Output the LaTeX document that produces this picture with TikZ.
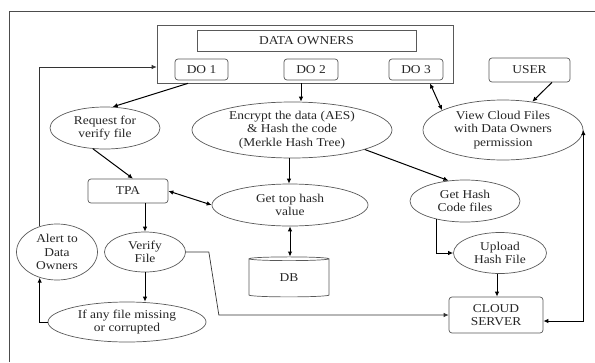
\documentclass[tikz,border=0pt]{standalone}
\usepackage{fontspec}
\setmainfont{Liberation Serif}[FakeStretch=1.12]
\usetikzlibrary{shapes.geometric,arrows.meta,calc}

\begin{document}
\begin{tikzpicture}[x=1pt,y=-1pt,
  font=\fontsize{12}{13.5}\selectfont,
  shapeline/.style={draw=black!65, line width=0.7pt, text=black!85},
  plainbox/.style={shapeline, rectangle, inner sep=0pt, align=center},
  box/.style={plainbox, rounded corners=3pt},
  oval/.style={shapeline, ellipse, inner sep=0pt, align=center},
  tip/.tip={Latex[length=5pt,width=4.5pt]},
  link/.style={draw=black, line width=1pt, -tip},
  biglink/.style={draw=black, line width=1pt, tip-tip},
  thinlink/.style={draw=black!80, line width=0.7pt, -tip}]
\useasboundingbox (0,0) rectangle (595,362);

% frame
\draw[black!70, line width=0.8pt] (9,362) -- (9,11) -- (595,11);

% data owners group
\node[plainbox, minimum width=296pt, minimum height=58pt] (owners) at (305,54) {};
\node[plainbox, minimum width=219pt, minimum height=21pt] (title) at (306.5,40.5) {DATA OWNERS};
\node[box, minimum width=53pt, minimum height=21pt] (do1) at (201.5,69.5) {DO 1};
\node[box, minimum width=54pt, minimum height=21pt] (do2) at (311,69.5) {DO 2};
\node[box, minimum width=54pt, minimum height=21pt] (do3) at (416,69.5) {DO 3};
\node[box, minimum width=81pt, minimum height=24pt] (user) at (529.5,70) {USER};

% process nodes
\node[oval, minimum width=110pt, minimum height=42pt] (request) at (105,128) {Request for\\verify file};
\node[oval, minimum width=200pt, minimum height=56pt] (encrypt) at (292,130) {Encrypt the data (AES)\\\& Hash the code\\(Merkle Hash Tree)};
\node[oval, minimum width=160pt, minimum height=60pt] (view) at (503,130) {View Cloud Files\\with Data Owners\\permission};
\node[box, minimum width=80pt, minimum height=24pt] (tpa) at (128,191) {TPA};
\node[oval, minimum width=156pt, minimum height=42pt] (tophash) at (290,205) {Get top hash\\value};
\node[oval, minimum width=110pt, minimum height=42pt] (hashcode) at (465,201) {Get Hash\\Code files};
\node[oval, minimum width=81pt, minimum height=56pt] (alert) at (57,252) {Alert to\\Data\\Owners};
\node[oval, minimum width=81pt, minimum height=40pt] (verify) at (145,252) {Verify\\File};
\node[shapeline, cylinder, shape border rotate=90, aspect=0.2, minimum width=80pt, minimum height=40pt, inner sep=0pt] (db) at (289,278) {DB};
\node[oval, minimum width=93pt, minimum height=41pt] (upload) at (500,253) {Upload\\Hash File};
\node[oval, minimum width=158pt, minimum height=40pt] (ifany) at (127,322) {If any file missing\\or corrupted};
\node[box, minimum width=94pt, minimum height=36pt] (cloud) at (496,315) {CLOUD\\SERVER};

% connectors
\draw[link] ([xshift=-13.5pt]do1.south |- owners.south) -- (request.70);
\draw[link] (request.240) -- ([xshift=5pt]tpa.north);
\draw[thinlink] (alert.124) |- ([yshift=-13pt]owners.west);
\draw[link] ([xshift=-10pt]do2.south |- owners.south) -- ([xshift=-10pt]do2.south |- encrypt.north);
\draw[biglink] ([xshift=14pt]do3.south |- owners.south) -- (view.162);
\draw[link] ([xshift=22.5pt]user.south) -- (view.44);
\draw[link] ([xshift=-3pt]encrypt.south) -- ([xshift=-3pt]encrypt.south |- tophash.north);
\draw[link] (encrypt.345) -- (hashcode.129);
\draw[biglink] (tpa.east) -- (tophash.west);
\draw[biglink] (tophash.south) -- (tophash.south |- db.north);
\draw[link] ([xshift=17pt]tpa.south) -- (verify.north);
\draw[link] (verify.south) -- (verify.south |- ifany.north);
\draw[link] (ifany.west) -| (alert.236);
\draw[thinlink] (verify.east) -- ++(23,0) -- ++(10,63) -- (cloud.west);
\draw[link] (hashcode.213) |- (upload.west);
\draw[link] ([xshift=-3pt]upload.south) -- ([xshift=-3pt]upload.south |- cloud.north);
\draw[biglink] ([yshift=-6pt]cloud.east) -| (view.east);
\end{tikzpicture}
\end{document}
